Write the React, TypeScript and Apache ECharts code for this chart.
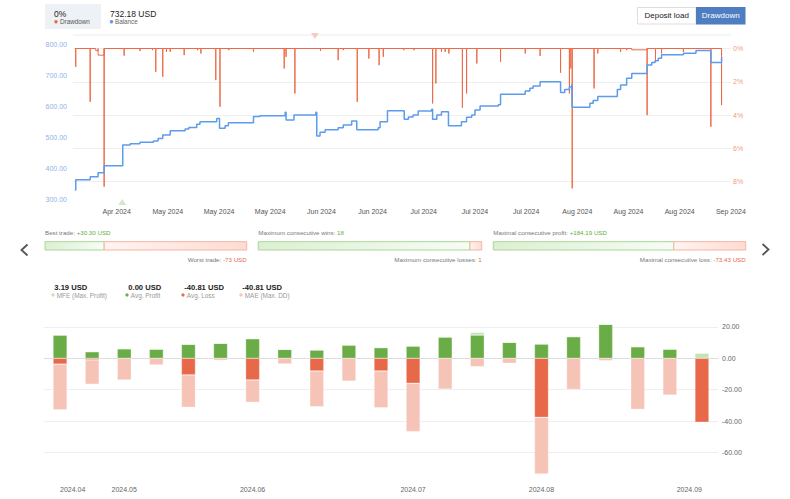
import React, { useEffect, useRef } from 'react';
import * as echarts from 'echarts';

const FONT = '"Liberation Sans", Arial, sans-serif';

// ---------- top chart (x = days since 2024-04-01) ----------
const topTickDays = [26, 37, 48, 59, 70, 81, 92, 103, 114, 125, 136, 147, 158];
const topTickLabels = ['Apr 2024', 'May 2024', 'May 2024', 'May 2024', 'Jun 2024', 'Jun 2024', 'Jul 2024', 'Jul 2024', 'Jul 2024', 'Aug 2024', 'Aug 2024', 'Aug 2024', 'Sep 2024'];
const balanceTicks = [300, 400, 500, 600, 700, 800];
const drawdownTicks = [0, 2, 4, 6, 8];

// [day, balance after change]
const balanceSteps: [number, number][] = [
  [17.0, 330], [17.2, 363], [20.3, 373], [22.0, 386], [23.3, 409], [27.3, 476], [28.9, 480],
  [31.0, 485], [33.9, 489], [34.9, 497], [35.9, 508], [37.5, 522], [40.7, 528], [41.5, 533],
  [43.2, 543], [43.9, 551], [47.5, 562], [48.1, 530], [49.3, 538], [50.0, 548], [55.4, 568],
  [56.8, 571], [62.2, 582], [62.4, 557], [64.1, 573], [68.8, 582], [69.0, 505], [69.7, 517],
  [70.8, 525], [73.6, 532], [74.7, 541], [76.5, 554], [77.6, 525], [82.2, 532], [82.6, 551],
  [84.2, 587], [87.8, 559], [88.7, 567], [89.7, 573], [90.8, 586], [93.7, 592], [93.9, 559],
  [94.8, 573], [95.8, 584], [97.3, 538], [100.1, 551], [101.2, 566], [102.3, 573], [103.0, 589],
  [104.1, 602], [108.0, 606], [108.5, 640], [113.8, 651], [114.8, 660], [115.5, 667], [117.0, 681],
  [121.4, 646], [122.3, 656], [123.3, 665], [123.8, 673], [123.9, 598], [127.7, 611], [128.4, 620],
  [129.4, 633], [133.6, 656], [134.3, 670], [135.6, 692], [136.7, 708], [140.0, 735], [141.0, 743],
  [141.7, 749], [142.4, 757], [143.1, 768], [147.8, 773], [150.5, 782], [153.7, 743], [156.0, 760],
];

// [day, drawdown %]
const drawdownSpikes: [number, number][] = [
  [17.2, 1.1], [20.3, 3.2], [23.3, 8.3], [27.6, 0.43], [31.0, 0.15], [33.7, 0.1], [34.4, 1.4],
  [35.9, 1.7], [36.7, 0.2], [37.5, 0.2], [40.5, 0.4], [43.4, 0.1], [44.1, 0.3], [47.3, 1.9],
  [48.2, 3.5], [50.1, 0.1], [55.4, 0.2], [62.0, 1.2], [62.4, 0.5], [64.3, 2.7], [69.8, 0.15],
  [73.6, 0.7], [74.7, 0.1], [77.7, 3.2], [80.2, 0.6], [82.4, 1.0], [83.3, 0.5], [87.7, 0.1],
  [89.9, 0.1], [93.9, 3.3], [94.6, 2.1], [95.8, 0.2], [96.6, 0.2], [97.4, 0.3], [100.3, 3.55],
  [101.2, 2.7], [103.4, 0.9], [108.5, 0.8], [113.8, 0.3], [117.0, 0.45], [121.4, 1.45],
  [123.3, 2.7], [123.6, 1.2], [123.9, 8.4], [128.6, 2.4], [129.4, 0.3], [134.3, 0.2],
  [135.6, 0.1], [140.0, 4.0], [141.8, 0.8], [143.1, 0.3], [147.8, 0.2], [153.7, 4.7], [156.0, 3.4],
];
// [start day, end day, drawdown %]
const drawdownPlateaus: [number, number, number][] = [
  [21.5, 22.0, 0.13], [22.0, 23.3, 0.4], [136.7, 140.0, 0.08],
];
const ddStart = 17.0;
const ddEnd = 156.0;

const buyMarkers: [number, number][] = [[27.2, 291]];
const sellMarkers: [number, number][] = [[68.6, 829]];

// ---------- header ----------
const headerDrawdown = '0%';
const headerBalance = '732.18 USD';

// ---------- stats ----------
const bestTrade = 30.3;
const worstTrade = -73;
const maxConsWins = 18;
const maxConsLosses = 1;
const maxConsProfit = 184.19;
const maxConsLoss = -73.43;

// ---------- bottom chart ----------
const weekKeys = ['W1', 'W2', 'W3', 'W4', 'W5', 'W6', 'W7', 'W8', 'W9', 'W10', 'W11', 'W12', 'W13', 'W14', 'W15', 'W16', 'W17', 'W18', 'W19', 'W20', 'W21'];
const weekMonthLabels = ['2024.04', '', '2024.05', '', '', '', '2024.06', '', '', '', '', '2024.07', '', '', '', '2024.08', '', '', '', '', '2024.09'];
const avgProfit = [14.8, 4.2, 6.1, 5.9, 8.9, 9.6, 12.5, 5.7, 5.3, 8.5, 6.8, 7.8, 13.6, 14.8, 10.2, 9.1, 13.8, 21.7, 7.4, 5.9, 0];
const maxProfit = [14.8, 4.2, 6.1, 5.9, 8.9, 9.6, 12.5, 5.7, 5.3, 8.5, 6.8, 7.8, 13.6, 16.6, 10.2, 9.1, 13.8, 21.7, 7.4, 5.9, 3.19];
const avgLoss = [-3.7, -1.0, 0, 0, -10.6, 0, -13.8, 0, -8.1, 0, -8.1, -15.9, 0, 0, 0, -37.6, 0, 0, 0, 0, -40.81];
const maxDD = [-32.8, -16.5, -13.8, -4.2, -31.2, -1.3, -28.0, -3.6, -30.8, -14.5, -31.5, -46.7, -19.6, -5.3, -3.2, -73.7, -19.8, -1.5, -32.5, -23.4, -40.81];
const weeklyTicks = [-60, -40, -20, 0, 20];
const bottomLegend = [
  { value: '3.19 USD', label: 'MFE (Max. Profit)', color: '#c4e2b3' },
  { value: '0.00 USD', label: 'Avg. Profit', color: '#6aad46' },
  { value: '-40.81 USD', label: 'Avg. Loss', color: '#e8694a' },
  { value: '-40.81 USD', label: 'MAE (Max. DD)', color: '#f6c4b7' },
];

const GREEN = '#6aad46';
const RED = '#e8694a';
const BLUE = '#5d9cec';
const DDRED = '#ec6a48';

function buildDrawdown(): [number, number][] {
  const segs: { key: number; pts: [number, number][] }[] = [];
  drawdownSpikes.forEach(([d, v]) => segs.push({ key: d, pts: [[d, 0], [d, v], [d, 0]] }));
  drawdownPlateaus.forEach(([s, e, v]) => segs.push({ key: s - 0.001, pts: [[s, 0], [s, v], [e, v], [e, 0]] }));
  segs.sort((a, b) => a.key - b.key);
  const out: [number, number][] = [[ddStart, 0]];
  segs.forEach((s) => out.push(...s.pts));
  out.push([ddEnd, 0]);
  return out;
}

function statBar(x0: number, x1: number, pos: number, neg: number, top: string, bottom: string): any[] {
  const y = 241.7;
  const h = 8.3;
  const ratio = Math.abs(pos) / (Math.abs(pos) + Math.abs(neg));
  const xm = x0 + (x1 - x0) * ratio;
  return [
    {
      type: 'rect', shape: { x: x0, y, width: xm - x0, height: h },
      style: {
        fill: new echarts.graphic.LinearGradient(0, 0, 1, 0, [
          { offset: 0, color: '#dcefd3' }, { offset: 1, color: '#f7fcf5' },
        ]),
        stroke: '#a8d896', lineWidth: 1,
      },
    },
    {
      type: 'rect', shape: { x: xm, y, width: x1 - xm, height: h },
      style: {
        fill: new echarts.graphic.LinearGradient(0, 0, 1, 0, [
          { offset: 0, color: '#fff4f1' }, { offset: 1, color: '#fcdcd3' },
        ]),
        stroke: '#f4b4a2', lineWidth: 1,
      },
    },
    {
      type: 'text', x: x0, y: 232,
      style: {
        text: top, fontSize: 6.2, fontFamily: FONT, textVerticalAlign: 'middle', textAlign: 'left',
        rich: { l: { fill: '#777', fontSize: 6.2, fontFamily: FONT }, g: { fill: '#5fae3e', fontSize: 6.2, fontFamily: FONT } },
      },
    },
    {
      type: 'text', x: x1, y: 259.5,
      style: {
        text: bottom, fontSize: 6.2, fontFamily: FONT, textVerticalAlign: 'middle', textAlign: 'right',
        rich: { l: { fill: '#777', fontSize: 6.2, fontFamily: FONT }, r: { fill: '#e8694a', fontSize: 6.2, fontFamily: FONT } },
      },
    },
  ];
}

export default function App() {
  const ref = useRef<HTMLDivElement>(null);
  useEffect(() => {
    if (!ref.current) return;
    const chart = echarts.init(ref.current, null, { renderer: 'svg' });

    const fmtUsd = (v: number) => (v > 0 ? '+' : '') + v.toFixed(2) + ' USD';

    const graphics: any[] = [
      // header legend
      { type: 'rect', shape: { x: 45, y: 4, width: 56, height: 25 }, style: { fill: '#eef1f6' } },
      { type: 'text', x: 54, y: 13.7, style: { text: headerDrawdown, fontSize: 8.5, fontFamily: FONT, fill: '#222', textVerticalAlign: 'middle' } },
      { type: 'circle', shape: { cx: 56, cy: 21.7, r: 1.7 }, style: { fill: DDRED } },
      { type: 'text', x: 60, y: 21.7, style: { text: 'Drawdown', fontSize: 6.3, fontFamily: FONT, fill: '#555', textVerticalAlign: 'middle' } },
      { type: 'text', x: 110, y: 13.7, style: { text: headerBalance, fontSize: 8.5, fontFamily: FONT, fill: '#222', textVerticalAlign: 'middle' } },
      { type: 'circle', shape: { cx: 111.5, cy: 21.7, r: 1.7 }, style: { fill: BLUE } },
      { type: 'text', x: 115, y: 21.7, style: { text: 'Balance', fontSize: 6.3, fontFamily: FONT, fill: '#666', textVerticalAlign: 'middle' } },
      // buttons
      { type: 'rect', shape: { x: 637.5, y: 7.5, width: 58.5, height: 16.5 }, style: { fill: '#fff', stroke: '#dddddd', lineWidth: 1 } },
      { type: 'text', x: 666.7, y: 15.7, style: { text: 'Deposit load', fontSize: 8, fontFamily: FONT, fill: '#222', textAlign: 'center', textVerticalAlign: 'middle' } },
      { type: 'rect', shape: { x: 696, y: 7, width: 49.5, height: 17.5 }, style: { fill: '#4f7dc2' } },
      { type: 'text', x: 720.7, y: 15.7, style: { text: 'Drawdown', fontSize: 8, fontFamily: FONT, fill: '#fff', textAlign: 'center', textVerticalAlign: 'middle' } },
      // top border line of top chart
      { type: 'line', shape: { x1: 73, y1: 35, x2: 731, y2: 35 }, style: { stroke: '#ececec', lineWidth: 1 } },
      // arrows
      { type: 'polyline', shape: { points: [[27.5, 244.5], [21.5, 250], [27.5, 255.5]] }, style: { stroke: '#555', lineWidth: 1.8, fill: null } },
      { type: 'polyline', shape: { points: [[762.5, 244], [768.5, 249.5], [762.5, 255]] }, style: { stroke: '#555', lineWidth: 1.8, fill: null } },
      ...statBar(45, 246.7, bestTrade, worstTrade,
        `{l|Best trade: }{g|${fmtUsd(bestTrade)}}`, `{l|Worst trade: }{r|${worstTrade} USD}`),
      ...statBar(258.3, 481.7, maxConsWins, maxConsLosses,
        `{l|Maximum consecutive wins: }{g|${maxConsWins}}`, `{l|Maximum consecutive losses: }{r|${maxConsLosses}}`),
      ...statBar(493.3, 745.7, maxConsProfit, maxConsLoss,
        `{l|Maximal consecutive profit: }{g|${fmtUsd(maxConsProfit)}}`, `{l|Maximal consecutive loss: }{r|${maxConsLoss.toFixed(2)} USD}`),
    ];
    const legX = [54.3, 128.3, 184.3, 242.3];
    bottomLegend.forEach((it, i) => {
      graphics.push({ type: 'text', x: legX[i], y: 287.3, style: { text: it.value, fontSize: 7.6, fontWeight: 'bold', fontFamily: FONT, fill: '#222', textVerticalAlign: 'middle' } });
      graphics.push({ type: 'circle', shape: { cx: legX[i] - 1.3, cy: 295, r: 1.6 }, style: { fill: it.color } });
      graphics.push({ type: 'text', x: legX[i] + 2.5, y: 295, style: { text: it.label, fontSize: 6.4, fontFamily: FONT, fill: '#999', textVerticalAlign: 'middle' } });
    });

    const labelInterval = (i: number) => weekMonthLabels[i] !== '';

    chart.setOption({
      animation: false,
      backgroundColor: '#fff',
      textStyle: { fontFamily: FONT },
      graphic: { elements: graphics },
      grid: [
        { left: 73, top: 35, width: 658.1, height: 165 },
        { left: 44, top: 320, width: 674, height: 161.7 },
      ],
      xAxis: [
        {
          gridIndex: 0, type: 'value', min: 16.61, max: 158.05,
          axisLine: { show: false }, axisTick: { show: false, customValues: topTickDays }, splitLine: { show: false },
          axisLabel: {
            customValues: topTickDays, color: '#555', fontSize: 7, margin: 8, fontFamily: FONT,
            formatter: (v: number) => topTickLabels[topTickDays.findIndex((d) => Math.abs(d - v) < 0.01)] ?? '',
          },
        },
        {
          gridIndex: 1, type: 'category', data: weekKeys,
          axisLine: { lineStyle: { color: '#dddddd' } },
          axisTick: { alignWithLabel: true, interval: labelInterval, length: 3, lineStyle: { color: '#cccccc' } },
          axisLabel: {
            interval: labelInterval, formatter: (_v: string, i: number) => weekMonthLabels[i],
            color: '#666', fontSize: 7, margin: 4, fontFamily: FONT,
            alignMinLabel: 'left', alignMaxLabel: 'right',
          },
        },
      ],
      yAxis: [
        {
          gridIndex: 0, type: 'value', position: 'left', min: 297.7, max: 832.4,
          axisLine: { show: false }, axisTick: { show: false, customValues: balanceTicks }, splitLine: { show: false },
          axisLabel: { customValues: balanceTicks, formatter: (v: number) => v.toFixed(2), color: '#8db4ec', fontSize: 7, margin: 6, fontFamily: FONT },
        },
        {
          gridIndex: 0, type: 'value', position: 'right', inverse: true, min: -0.811, max: 9.099,
          axisLine: { show: false }, axisTick: { show: false, customValues: drawdownTicks },
          splitLine: { show: true, lineStyle: { color: '#efefef' } },
          axisLabel: { customValues: drawdownTicks, formatter: (v: number) => v + '%', color: '#f39b82', fontSize: 7, margin: 2, fontFamily: FONT },
        },
        {
          gridIndex: 1, type: 'value', position: 'right', min: -78.6, max: 24.4,
          axisLine: { show: false }, axisTick: { show: false, customValues: weeklyTicks },
          splitLine: { show: true, lineStyle: { color: '#efefef' } },
          axisLabel: { customValues: weeklyTicks, formatter: (v: number) => v.toFixed(2), color: '#666', fontSize: 7, margin: 4, fontFamily: FONT },
        },
      ],
      series: [
        {
          type: 'line', xAxisIndex: 0, yAxisIndex: 1, data: buildDrawdown(), symbol: 'none',
          lineStyle: { color: DDRED, width: 1 }, z: 2,
        },
        {
          type: 'line', xAxisIndex: 0, yAxisIndex: 0, data: balanceSteps, step: 'end', symbol: 'none',
          lineStyle: { color: BLUE, width: 1.5 }, z: 3,
        },
        {
          type: 'scatter', xAxisIndex: 0, yAxisIndex: 0, data: buyMarkers, symbol: 'triangle', symbolSize: [8, 6],
          itemStyle: { color: '#c5e3b6' }, clip: false, z: 4,
        },
        {
          type: 'scatter', xAxisIndex: 0, yAxisIndex: 0, data: sellMarkers, symbol: 'triangle', symbolSize: [8, 6], symbolRotate: 180,
          itemStyle: { color: '#f6c1b2' }, clip: false, z: 4,
        },
        {
          type: 'bar', xAxisIndex: 1, yAxisIndex: 2, stack: 'w', barWidth: 14, data: avgProfit,
          itemStyle: { color: GREEN, borderColor: 'rgba(255,255,255,0.6)', borderWidth: 0.5 },
        },
        {
          type: 'bar', xAxisIndex: 1, yAxisIndex: 2, stack: 'w', barWidth: 14,
          data: maxProfit.map((m, i) => +(m - avgProfit[i]).toFixed(2)),
          itemStyle: { color: '#c4e2b3', borderColor: 'rgba(255,255,255,0.6)', borderWidth: 0.5 },
        },
        {
          type: 'bar', xAxisIndex: 1, yAxisIndex: 2, stack: 'w', barWidth: 14, data: avgLoss,
          itemStyle: { color: RED, borderColor: 'rgba(255,255,255,0.6)', borderWidth: 0.5 },
        },
        {
          type: 'bar', xAxisIndex: 1, yAxisIndex: 2, stack: 'w', barWidth: 14,
          data: maxDD.map((m, i) => +(m - avgLoss[i]).toFixed(2)),
          itemStyle: { color: '#f6c4b7', borderColor: 'rgba(255,255,255,0.6)', borderWidth: 0.5 },
        },
      ],
    });
    return () => chart.dispose();
  }, []);
  return <div ref={ref} style={{ position: 'absolute', left: 0, top: 0, width: 790, height: 499, background: '#fff' }} />;
}
